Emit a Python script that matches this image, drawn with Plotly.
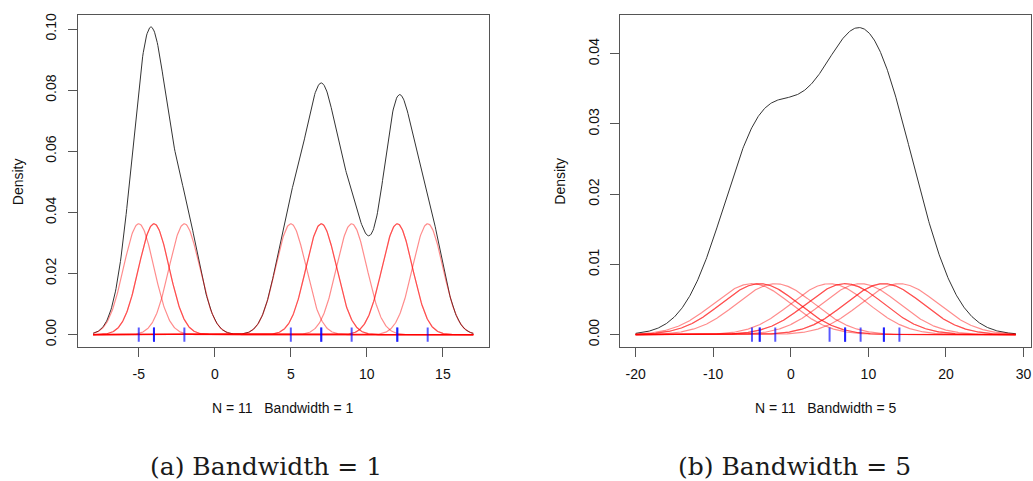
import numpy as np
import plotly.graph_objects as go

# Data: observations and bandwidths
obs = [-5, -4, -4, -2, 5, 7, 7, 9, 12, 12, 14]
bandwidths = [1, 5]
yticks_a = [0.00, 0.02, 0.04, 0.06, 0.08, 0.10]
yticks_b = [0.00, 0.01, 0.02, 0.03, 0.04]
xticks_a = [-5, 0, 5, 10, 15]
xticks_b = [-20, -10, 0, 10, 20, 30]
captions = ["(a) Bandwidth = 1", "(b) Bandwidth = 5"]
subtitles = ["N = 11\u00a0\u00a0\u00a0Bandwidth = 1", "N = 11\u00a0\u00a0\u00a0Bandwidth = 5"]

W, H = 1033, 481
N = len(obs)

def px_x(p):
    return p / W

def px_y(p):
    return 1 - p / H

fig = go.Figure()

panels = [
    dict(bw=bandwidths[0], xr=[-9, 18], yr=[-0.0039, 0.1046], xt=xticks_a, yt=yticks_a,
         dom=[78, 489], rug=0.0023, xa="x", ya="y"),
    dict(bw=bandwidths[1], xr=[-21.96, 30.96], yr=[-0.0017, 0.04553], xt=xticks_b, yt=yticks_b,
         dom=[621, 1032], rug=0.001, xa="x2", ya="y2"),
]

def npdf(g, m, s):
    return np.exp(-0.5 * ((g - m) / s) ** 2) / (s * np.sqrt(2 * np.pi))

for k, p in enumerate(panels):
    bw = p["bw"]
    grid = np.linspace(min(obs) - 3 * bw, max(obs) + 3 * bw, 600)
    dens = np.zeros_like(grid)
    for o in obs:
        dens += npdf(grid, o, bw) / N
    fig.add_trace(go.Scatter(x=grid, y=dens, mode="lines",
                             line=dict(color="#333333", width=1),
                             xaxis=p["xa"], yaxis=p["ya"], showlegend=False,
                             hoverinfo="skip"))
    for o in obs:
        fig.add_trace(go.Scatter(x=grid, y=npdf(grid, o, bw) / N, mode="lines",
                                 line=dict(color="rgba(255,0,0,0.45)", width=1.2),
                                 xaxis=p["xa"], yaxis=p["ya"], showlegend=False,
                                 hoverinfo="skip"))
    for o in obs:
        fig.add_trace(go.Scatter(x=[o, o], y=[-p["rug"], p["rug"]], mode="lines",
                                 line=dict(color="rgba(0,0,255,0.65)", width=2),
                                 xaxis=p["xa"], yaxis=p["ya"], showlegend=False,
                                 hoverinfo="skip"))

axis_common = dict(showgrid=False, zeroline=False, showline=True, mirror=True,
                   linecolor="#555", linewidth=1, ticks="outside", ticklen=9,
                   tickcolor="#555", tickwidth=1,
                   tickfont=dict(family="Liberation Sans, Arial", size=14, color="#111"))

ydom = [px_y(346), px_y(13)]
layout = dict(width=W, height=H, margin=dict(l=0, r=0, t=0, b=0),
              plot_bgcolor="white", paper_bgcolor="white", showlegend=False)

for k, p in enumerate(panels):
    suffix = "" if k == 0 else "2"
    layout["xaxis" + suffix] = dict(axis_common, domain=[px_x(p["dom"][0]), px_x(p["dom"][1])],
                                    range=p["xr"], tickvals=p["xt"],
                                    ticktext=[str(v) for v in p["xt"]],
                                    anchor="y" + suffix, ticklabelstandoff=6)
    layout["yaxis" + suffix] = dict(axis_common, domain=ydom, range=p["yr"],
                                    tickvals=p["yt"], ticktext=["%.2f" % v for v in p["yt"]],
                                    tickangle=-90, anchor="x" + suffix, ticklabelstandoff=6)

fig.update_layout(**layout)

annots = []
for k, p in enumerate(panels):
    cx = (p["dom"][0] + p["dom"][1]) / 2
    annots.append(dict(x=px_x(cx), y=px_y(408), xref="paper", yref="paper",
                       text=subtitles[k], showarrow=False, xanchor="center", yanchor="middle",
                       font=dict(family="Liberation Sans, Arial", size=14, color="#111")))
    annots.append(dict(x=px_x(p["dom"][0] - 60), y=px_y(180), xref="paper", yref="paper",
                       text="Density", showarrow=False, textangle=-90,
                       xanchor="center", yanchor="middle",
                       font=dict(family="Liberation Sans, Arial", size=14, color="#111")))
cap_x = [266, 795]
for k in range(2):
    annots.append(dict(x=px_x(cap_x[k]), y=px_y(466), xref="paper", yref="paper",
                       text=captions[k], showarrow=False, xanchor="center", yanchor="middle",
                       font=dict(family="DejaVu Serif, Liberation Serif", size=25, color="#1a1a1a")))
fig.update_layout(annotations=annots)

fig.write_html("out.html")
